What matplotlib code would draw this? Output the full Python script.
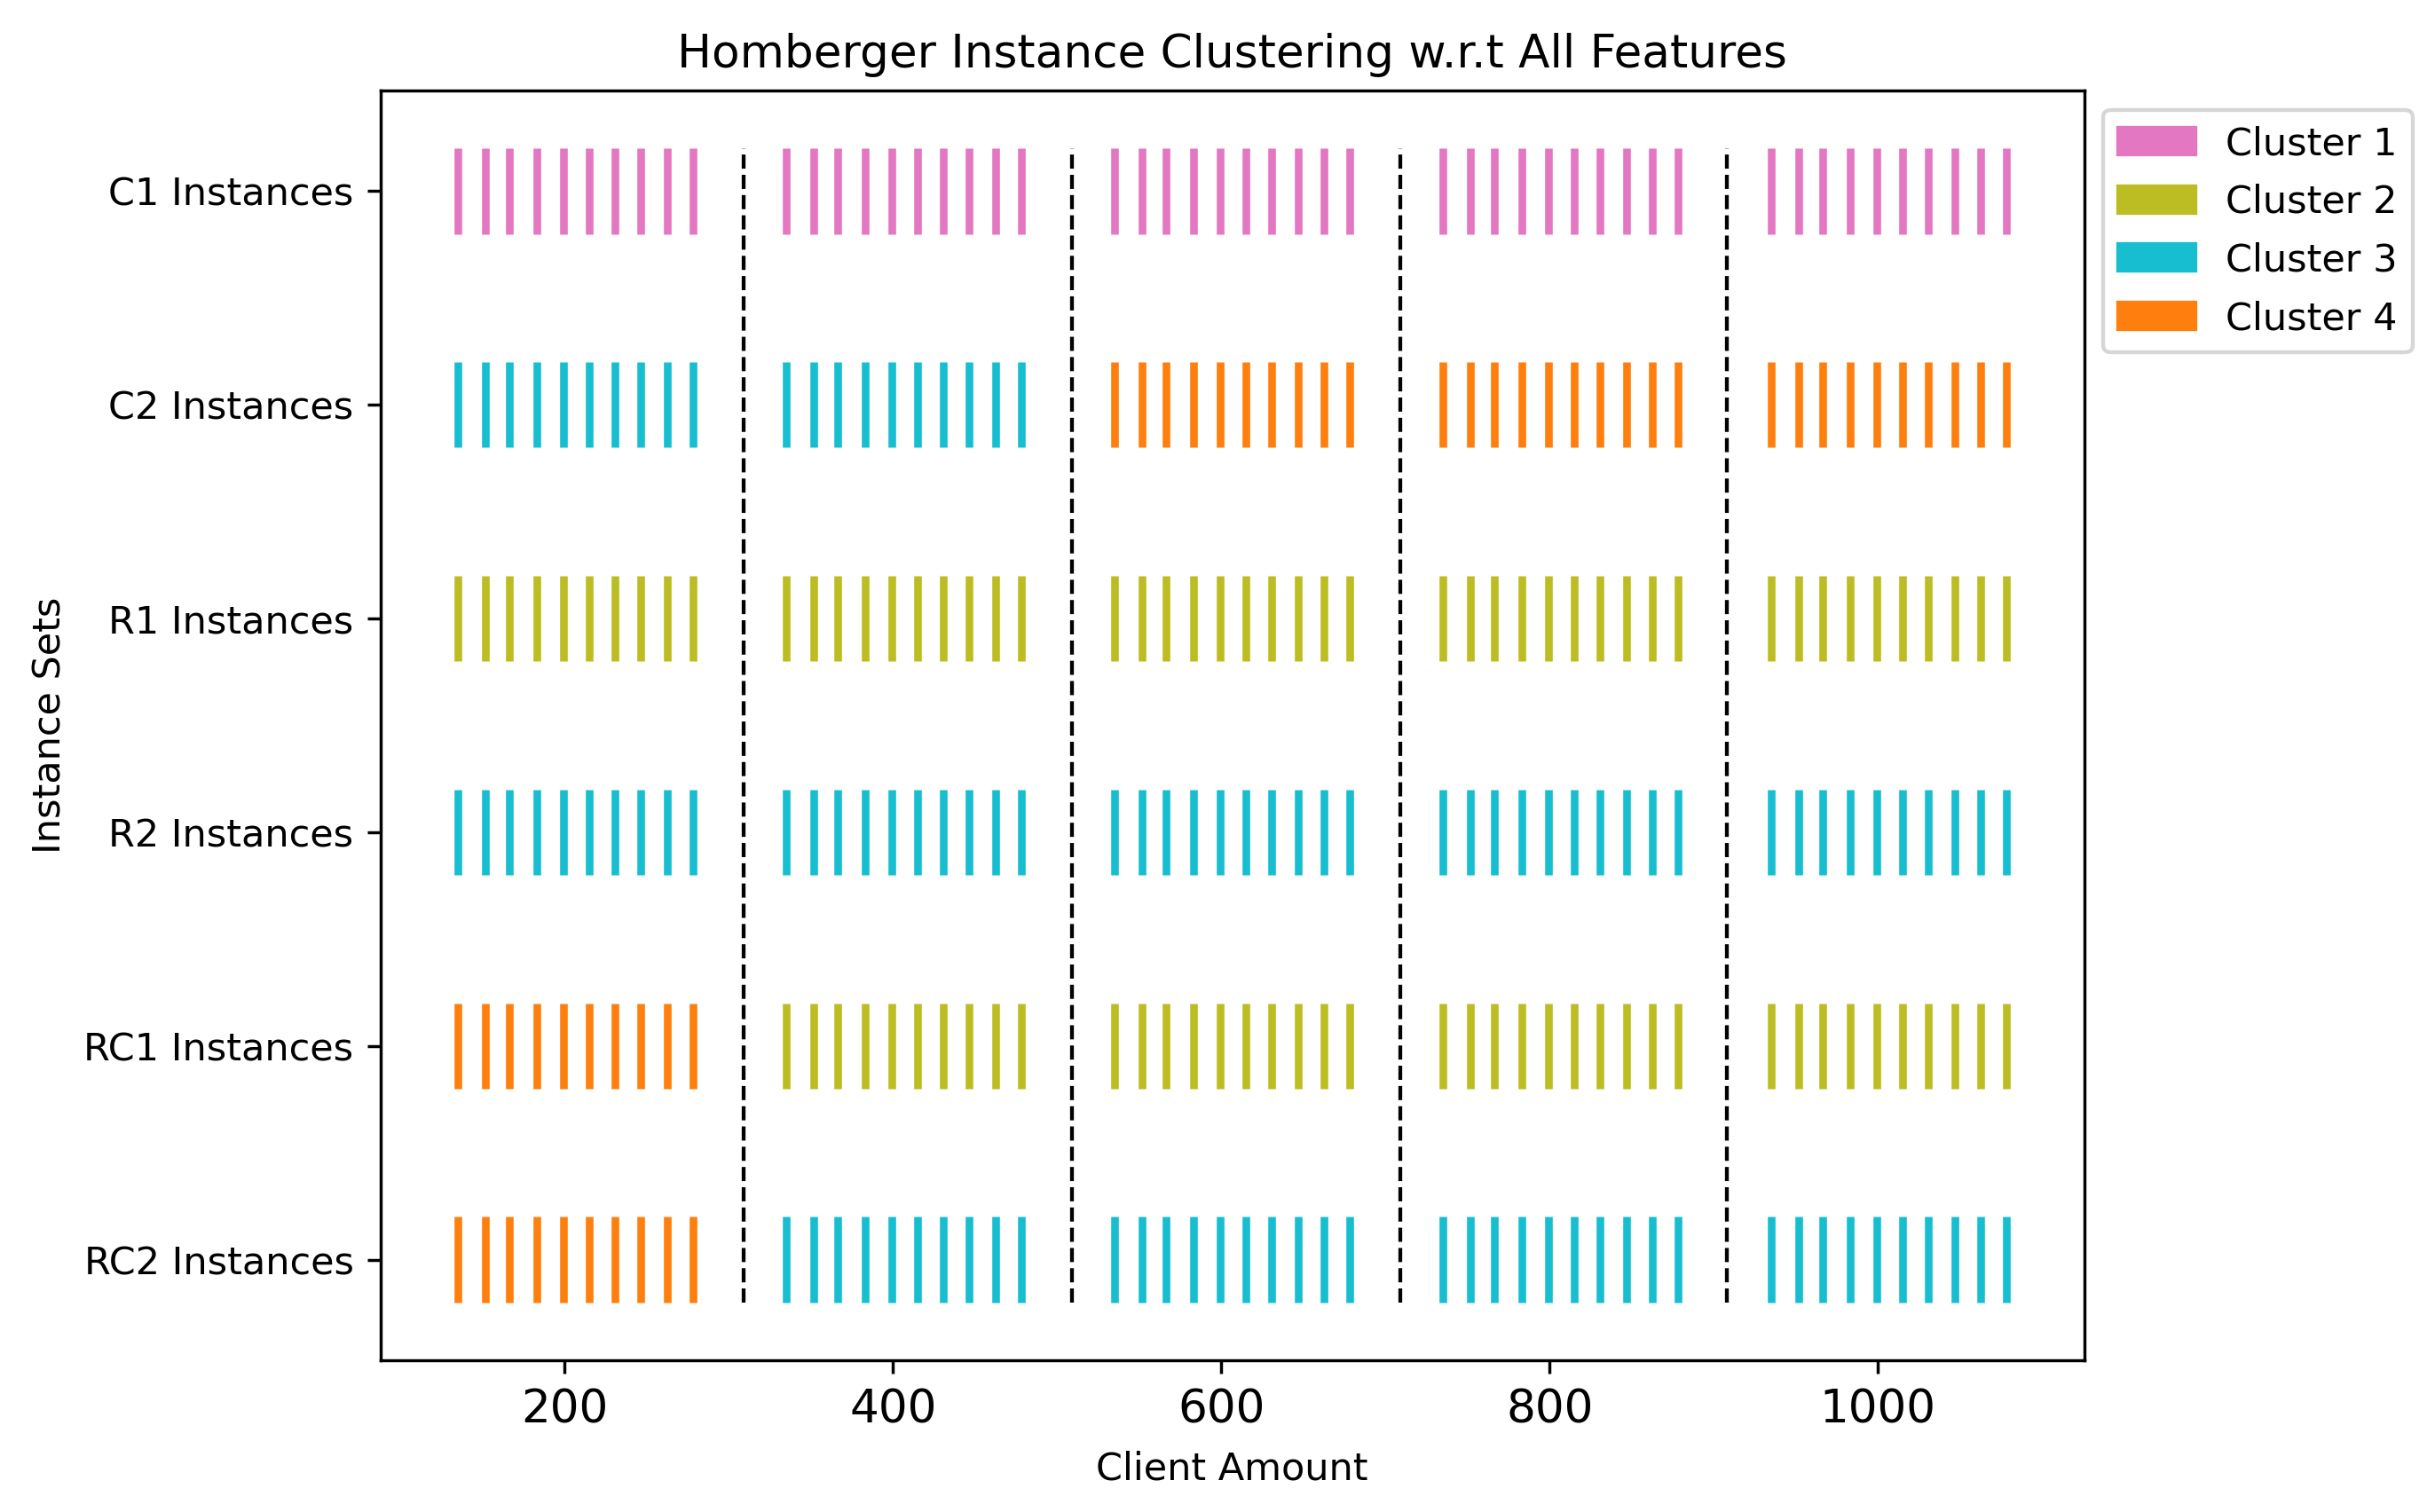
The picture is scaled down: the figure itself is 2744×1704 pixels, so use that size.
import matplotlib
matplotlib.use("Agg")
import matplotlib.pyplot as plt
import matplotlib.patches as mpatches

# instance sets, top to bottom
instance_sets = ["C1 Instances", "C2 Instances", "R1 Instances",
                 "R2 Instances", "RC1 Instances", "RC2 Instances"]
client_amounts = [200, 400, 600, 800, 1000]
# x offset of the 10 instances inside each client-amount group
instance_offsets = [-65, -48.4, -33.5, -16.7, -0.8, 15, 30.8, 46.6, 62.5, 78.4]
# cluster per instance set and client amount (same for all 10 instances)
clusters = {
    "C1 Instances":  [1, 1, 1, 1, 1],
    "C2 Instances":  [3, 3, 4, 4, 4],
    "R1 Instances":  [2, 2, 2, 2, 2],
    "R2 Instances":  [3, 3, 3, 3, 3],
    "RC1 Instances": [4, 2, 2, 2, 2],
    "RC2 Instances": [4, 3, 3, 3, 3],
}
separators = [309, 509, 709, 908]
cluster_names = ["Cluster 1", "Cluster 2", "Cluster 3", "Cluster 4"]
cluster_colors = {1: "tab:pink", 2: "tab:olive", 3: "tab:cyan", 4: "tab:orange"}

DPI = 310
fig = plt.figure(figsize=(2744 / DPI, 1704 / DPI), dpi=DPI)
ax = fig.add_axes([0.15623, 0.10053, 0.69971, 0.83943])

half = 0.2
n_sets = len(instance_sets)
for row, name in enumerate(instance_sets):
    y = n_sets - 1 - row
    for amount, cl in zip(client_amounts, clusters[name]):
        xs = [amount + off for off in instance_offsets]
        ax.vlines(xs, y - half, y + half, colors=cluster_colors[cl], linewidth=2)

# dashed separators between client-amount groups
ax.vlines(separators, -half, n_sets - 1 + half, colors="black",
          linestyles="--", linewidth=1)

ax.set_yticks(range(n_sets))
ax.set_yticklabels(instance_sets[::-1])
ax.tick_params(axis="x", labelsize=12, pad=4)
ax.set_xticks(client_amounts)
ax.set_xlabel("Client Amount", labelpad=4.5)
ax.set_ylabel("Instance Sets")
ax.set_title("Homberger Instance Clustering w.r.t All Features", fontsize=12)

handles = [mpatches.Patch(color=cluster_colors[i + 1], label=lab)
           for i, lab in enumerate(cluster_names)]
ax.legend(handles=handles, loc="upper left", bbox_to_anchor=(1, 1),
          labelspacing=0.55)

fig.savefig("out.png", dpi=DPI)
